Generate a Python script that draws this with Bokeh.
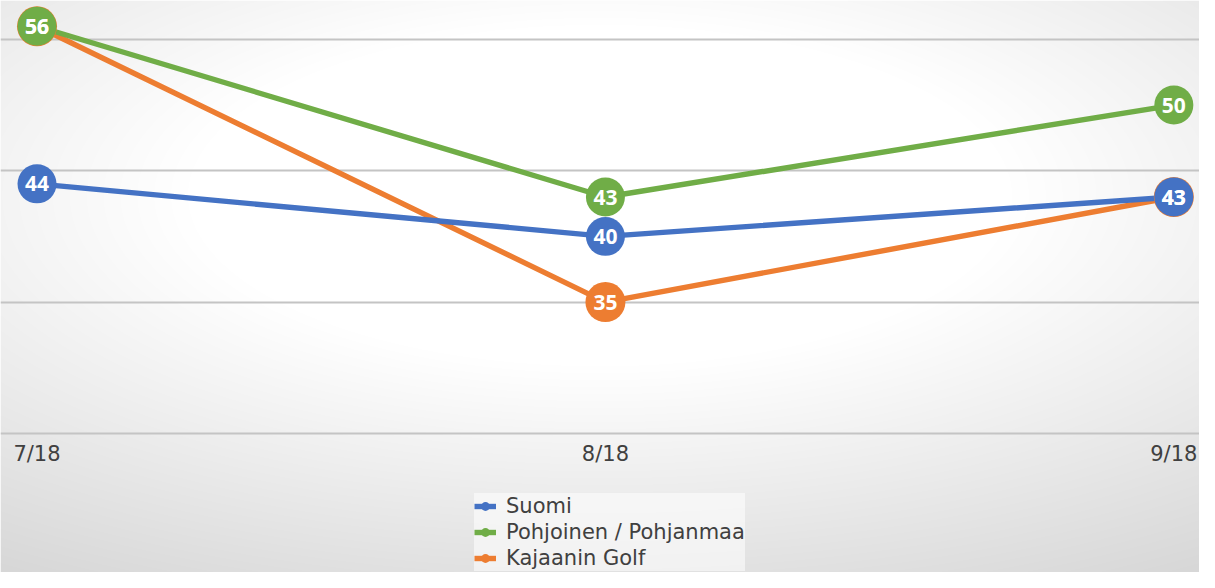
import numpy as np
from bokeh.plotting import figure
from bokeh.models import ColumnDataSource, Range1d, FixedTicker, Legend, LegendItem
from bokeh.core.properties import value
from bokeh.embed import file_html
from bokeh.resources import INLINE

# ---- data ----
months = ["7/18", "8/18", "9/18"]
series_names = ["Suomi", "Pohjoinen / Pohjanmaa", "Kajaanin Golf"]
suomi = [44, 40, 43]
pohjoinen = [56, 43, 50]
kajaani = [56, 35, 43]
grid_values = [25, 35, 45, 55]

colors = ["#4472C4", "#70AD47", "#ED7D31"]

W, H = 1199, 572
SX, SY = W / 1215.0, H / 588.0
x0_px, x2_px = 37 * SX, 1189 * SX
ux = (x2_px - x0_px) / 2.0
x_start, x_end = -x0_px / ux, 2 + (W - x2_px) / ux
ax_px, top_grid_px = 445 * SY, 40 * SY
uy = (ax_px - top_grid_px) / 30.0
y_start, y_end = 25 - (H - ax_px) / uy, 25 + ax_px / uy

p = figure(width=W, height=H, output_backend="svg", toolbar_location=None,
           x_range=Range1d(x_start, x_end), y_range=Range1d(y_start, y_end),
           min_border=0, outline_line_color=None,
           background_fill_color="white", border_fill_color="#ececec")

# radial background gradient
yy, xx = np.mgrid[0:H, 0:W]
rxp, ryp = xx / SX, yy / SY
d = np.sqrt(((rxp - 607) / 760.0) ** 2 + ((ryp - 200) / 320.0) ** 2)
g = (255 - 40 * np.clip((d - 0.55) / 0.9, 0, 1)).astype(np.uint8)
img = np.empty((H, W), dtype=np.uint32)
view = img.view(dtype=np.uint8).reshape((H, W, 4))
view[..., 0] = g
view[..., 1] = g
view[..., 2] = g
view[..., 3] = 255
img = np.ascontiguousarray(img[::-1])
p.image_rgba(image=[img], x=x_start, y=y_start, dw=x_end - x_start,
             dh=y_end - y_start, level="image")

# axes / grid
p.yaxis.visible = False
p.xgrid.visible = False
p.ygrid.ticker = FixedTicker(ticks=grid_values)
p.ygrid.grid_line_color = "#c4c4c4"
p.ygrid.grid_line_width = 2

p.xaxis.fixed_location = 25
p.xaxis.ticker = FixedTicker(ticks=list(range(len(months))))
p.xaxis.major_label_overrides = {i: m for i, m in enumerate(months)}
p.xaxis.axis_line_color = None
p.xaxis.major_tick_line_color = None
p.xaxis.minor_tick_line_color = None
p.xaxis.major_label_standoff = 3
p.xaxis.major_label_text_font = "DejaVu Sans"
p.xaxis.major_label_text_font_size = "21px"
p.xaxis.major_label_text_color = "#404040"

xs = list(range(len(months)))
data = {"Suomi": suomi, "Pohjoinen / Pohjanmaa": pohjoinen, "Kajaanin Golf": kajaani}
color_of = dict(zip(series_names, colors))

draw_order = ["Kajaanin Golf", "Suomi", "Pohjoinen / Pohjanmaa"]
sources = {}
lines = {}
marks = {}
for name in draw_order:
    src = ColumnDataSource(dict(x=xs, y=data[name], label=[str(v) for v in data[name]]))
    sources[name] = src
    lines[name] = p.line("x", "y", source=src, line_color=color_of[name], line_width=5.4)
for name in draw_order:
    size = 40 if name == "Kajaanin Golf" else 39
    marks[name] = p.scatter("x", "y", source=sources[name], size=size,
                            fill_color=color_of[name], line_color=None)
for name in draw_order:
    p.text("x", "y", text="label", source=sources[name], text_color="white",
           text_font=value("Open Sans"), text_font_style="bold",
           text_font_size="21px", text_align="center", text_baseline="middle")

legend = Legend(items=[LegendItem(label=n, renderers=[lines[n], marks[n]]) for n in series_names],
                location=(474, 1), orientation="vertical",
                label_text_font="DejaVu Sans", label_text_font_size="21px",
                label_text_color="#404040", glyph_width=22, glyph_height=26,
                label_height=26, spacing=0, padding=2, margin=0, label_standoff=10,
                background_fill_color="white", background_fill_alpha=0.55,
                border_line_color=None)
p.add_layout(legend)

open("out.html", "w").write(file_html(p, INLINE))
